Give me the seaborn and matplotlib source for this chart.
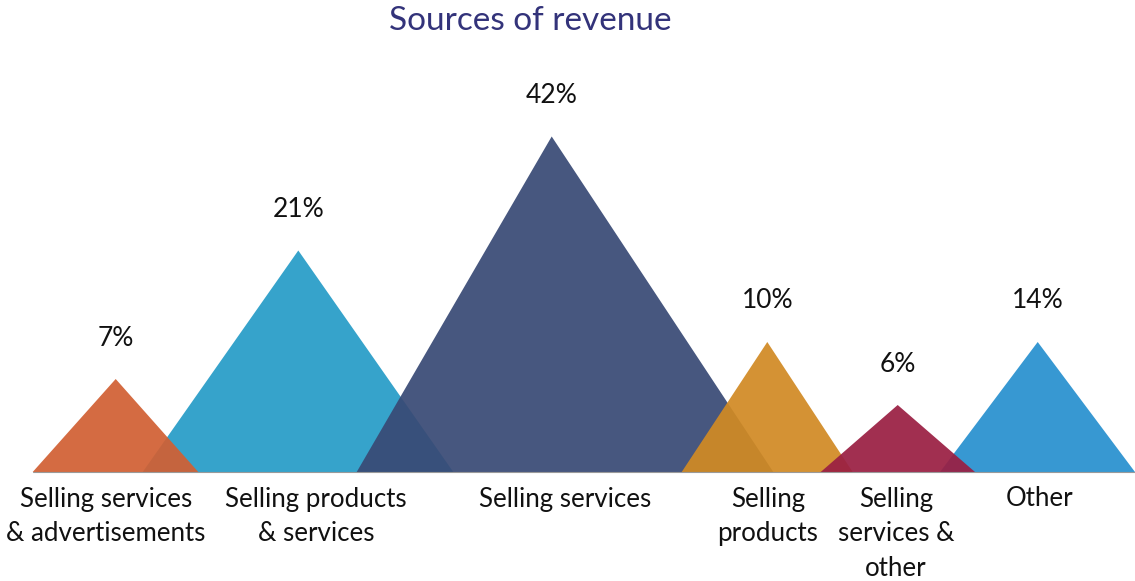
import matplotlib
matplotlib.use("Agg")
import matplotlib.pyplot as plt
import seaborn as sns
import pandas as pd

# ---- data ----
categories = ["Selling services\n& advertisements", "Selling products\n& services",
              "Selling services", "Selling\nproducts", "Selling\nservices &\nother", "Other"]
shares = [7, 21, 42, 10, 6, 14]                       # labelled percentages
peak_x = [115.7, 298.3, 551.7, 767.3, 897.7, 1037.7]  # apex position
peak_h = [93, 221.5, 335.5, 130, 67, 130]             # apex height
base_left = [32.7, 142.7, 356.7, 681.7, 820.7, 940.0]
base_right = [198.3, 453.3, 773.3, 852.7, 975.0, 1135.0]
label_x = [106, 316, 565, 768, 896, 1040]

colors = ["#D16033", "#279CC7", "#394A75", "#D18A24", "#9A1F43", "#2890CF"]
draw_order = [1, 0, 2, 3, 5, 4]
ALPHA = 0.93

df = pd.DataFrame({"category": categories, "share": shares, "x": peak_x, "h": peak_h,
                   "l": base_left, "r": base_right, "lx": label_x, "color": colors})

sns.set_theme(style="white")
plt.rcParams["font.family"] = ["Lato", "DejaVu Sans"]

fig = plt.figure(figsize=(11.35, 5.81), dpi=100)
ax = fig.add_axes([0, 0, 1, 1])
ax.set_xlim(0, 1135)
ax.set_ylim(-109, 472)
ax.axis("off")

for i in draw_order:
    row = df.iloc[i]
    ax.fill([row.l, row.x, row.r], [0, row.h, 0], color=row.color, alpha=ALPHA,
            linewidth=0, zorder=2 + draw_order.index(i))

ax.plot([df.l.min(), df.r.max()], [0, 0], color="#9a9a9a", lw=0.8, zorder=10)

for _, row in df.iterrows():
    ax.text(row.x, row.h + 41, f"{row.share}%", ha="center", va="center",
            fontsize=19, color="#111111", zorder=11)
    ax.text(row.lx, -14.5, row.category, ha="center", va="top", fontsize=18.6,
            color="#111111", linespacing=1.48, zorder=11)

ax.text(530, 451, "Sources of revenue", ha="center", va="center",
        fontsize=24, color="#33337A")

fig.savefig("out.png", dpi=100)
